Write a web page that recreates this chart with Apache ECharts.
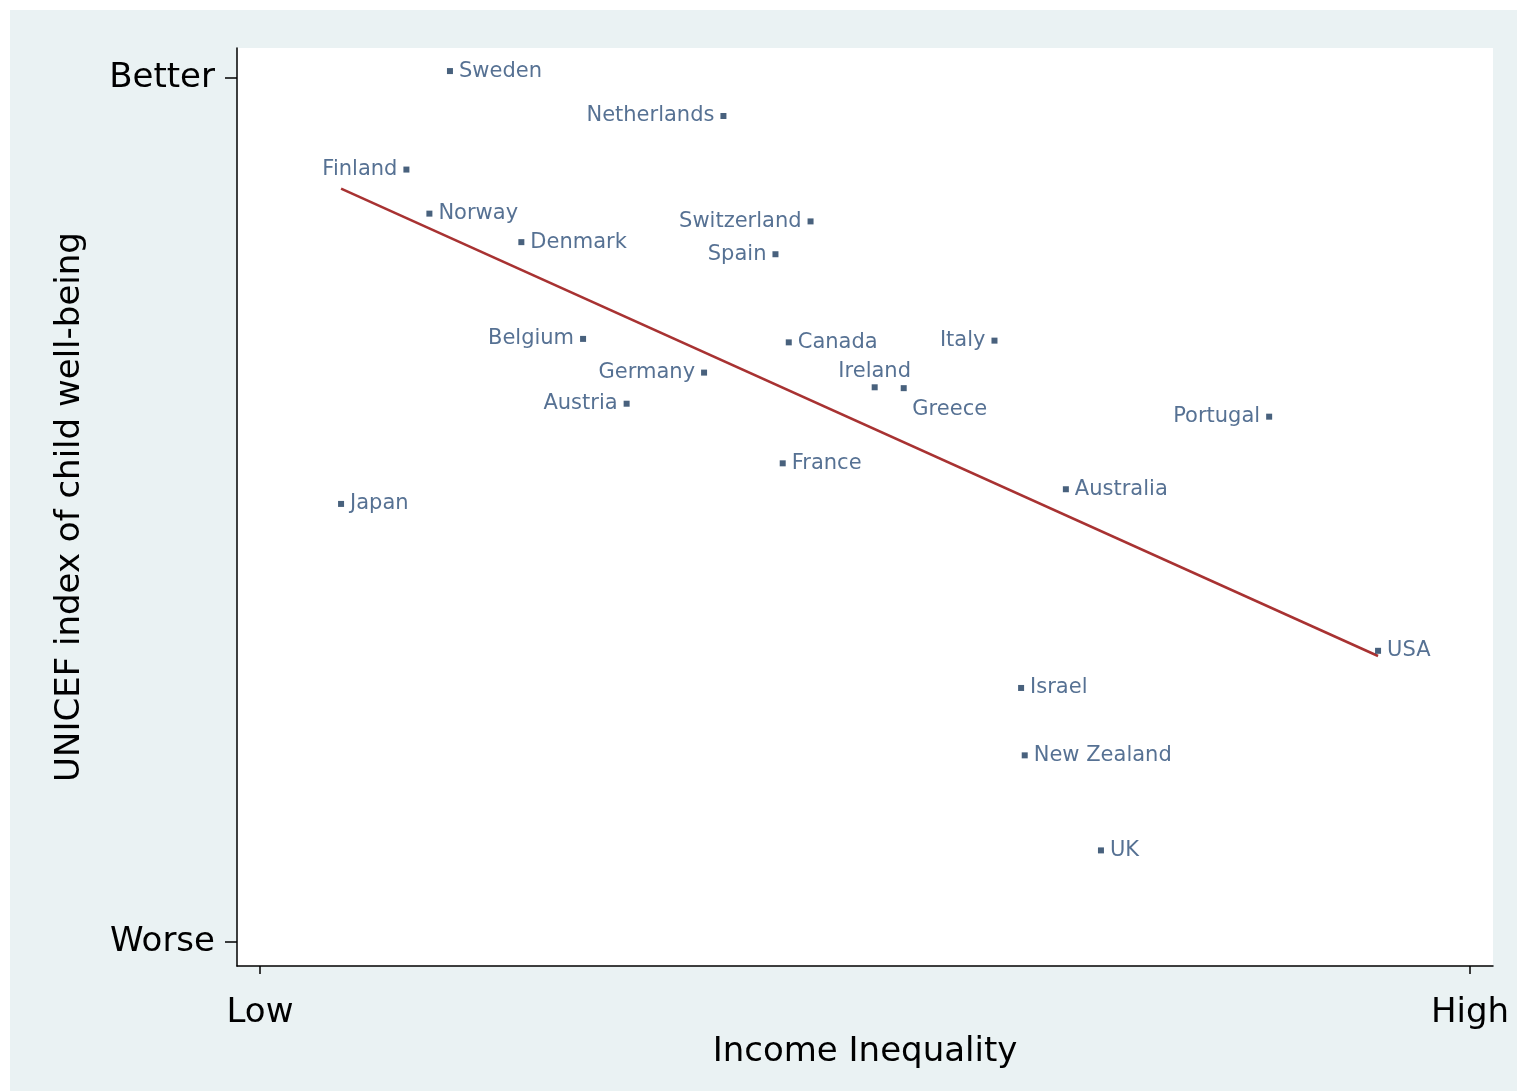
<!DOCTYPE html>
<html><head><meta charset="utf-8">
<script src="https://cdn.jsdelivr.net/npm/echarts@6/dist/echarts.min.js"></script>
<style>html,body{margin:0;padding:0;background:#fff;}#c{position:absolute;left:10px;top:10px;width:1507px;height:1081px;background:#eaf2f3;}</style>
</head><body><div id="c"></div>
<script>
const countries = ["Sweden","Netherlands","Finland","Norway","Denmark","Switzerland","Spain","Belgium","Canada","Italy","Germany","Ireland","Greece","Austria","Portugal","France","Australia","Japan","USA","Israel","New Zealand","UK"];
const inequality = [15.7,38.3,12.1,14.0,21.6,45.5,42.6,26.7,43.7,60.7,36.7,50.8,53.2,30.3,83.4,43.2,66.6,6.7,92.4,62.9,63.2,69.5];
const wellbeing = [100.8,95.6,89.4,84.3,81.0,83.4,79.6,69.8,69.4,69.6,65.9,64.2,64.1,62.3,60.8,55.4,52.4,50.7,33.7,29.4,21.6,10.6];
const labelSide = ["right","left","left","right","right","left","left","left","right","left","left","top","bottom","left","left","right","right","right","right","right","right","right"];
const fitX = [6.7, 92.4];
const fitY = [87.2, 33.1];
const xTicks = {0:"Low",100:"High"};
const yTicks = {0:"Worse",100:"Better"};

const pts = countries.map((n,i)=>{
  let lab = {position: labelSide[i], distance: 6};
  if (labelSide[i]==="bottom") lab = {position:"bottom", offset:[46,2], distance: 6};
  if (labelSide[i]==="top") lab = {position:"top", distance: 2};
  return {name:n, value:[inequality[i], wellbeing[i]], label: lab};
});
const chart = echarts.init(document.getElementById('c'));
chart.setOption({
  animation:false,
  grid:{left:227,right:24,top:38,bottom:125,show:true,backgroundColor:'#fff',borderWidth:0},
  xAxis:{type:'value',min:-1.9,max:101.9,splitLine:{show:false},
    axisLine:{onZero:false,lineStyle:{color:'#000',width:1.5}},
    axisTick:{customValues:[0,100],length:8,lineStyle:{color:'#000',width:1.5}},
    axisLabel:{customValues:[0,100],formatter:v=>xTicks[v]||'',fontSize:34,color:'#000',margin:30,fontFamily:'DejaVu Sans'},
    name:'Income Inequality',nameLocation:'middle',nameGap:64,nameTextStyle:{fontSize:34,color:'#000',fontFamily:'DejaVu Sans'}},
  yAxis:{type:'value',min:-2.78,max:103.47,splitLine:{show:false},
    axisLine:{onZero:false,lineStyle:{color:'#000',width:1.5}},
    axisTick:{customValues:[0,100],length:12,lineStyle:{color:'#000',width:1.5}},
    axisLabel:{customValues:[0,100],formatter:v=>yTicks[v]||'',fontSize:34,color:'#000',margin:22,fontFamily:'DejaVu Sans'},
    name:'UNICEF index of child well-being',nameLocation:'middle',nameGap:150,nameTextStyle:{fontSize:34,color:'#000',fontFamily:'DejaVu Sans'}},
  series:[
    {type:'line',data:fitX.map((x,i)=>[x,fitY[i]]),symbol:'none',lineStyle:{color:'#a83232',width:2.5},z:1},
    {type:'scatter',data:pts,symbol:'rect',symbolSize:6,itemStyle:{color:'#1a3a5c'},z:3,
     label:{show:true,formatter:p=>p.name,fontSize:21,color:'#2c4d78',fontFamily:'DejaVu Sans'}}
  ]
});
</script></body></html>
